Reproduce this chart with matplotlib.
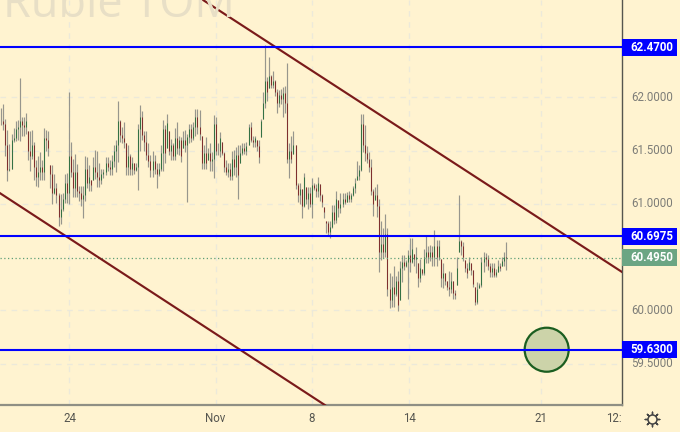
import matplotlib
matplotlib.use("Agg")
import matplotlib.pyplot as plt
from matplotlib.patches import Rectangle, Ellipse
from matplotlib.transforms import blended_transform_factory

highs = [61.90,61.94,61.80,61.69,61.56,61.66,61.71,61.78,61.79,62.18,61.82,61.82,61.85,61.68,61.68,61.69,61.58,61.41,61.45,61.49,61.41,61.71,61.69,61.68,61.36,61.36,61.28,61.20,61.10,61.09,61.10,61.28,61.29,62.05,61.58,61.42,61.47,61.37,61.17,61.17,61.17,61.45,61.44,61.36,61.22,61.44,61.51,
61.50,61.38,61.33,61.33,61.44,61.44,61.41,61.46,61.55,61.60,61.97,61.79,61.72,61.77,61.57,61.55,61.47,61.44,61.38,61.38,61.75,61.93,61.87,61.68,61.68,61.57,61.46,61.50,61.46,61.38,61.38,61.55,61.79,61.74,61.84,61.68,61.61,61.57,61.71,61.77,61.64,61.63,61.68,61.69,61.66,61.75,61.75,61.77,61.89,61.89,61.88,61.64,61.55,61.63,61.52,61.57,61.49,61.83,61.82,61.57,61.67,61.58,61.49,61.41,61.38,61.38,61.50,61.51,61.53,61.55,61.55,61.57,61.57,61.58,61.75,61.77,61.64,61.64,61.60,61.60,61.80,62.05,62.49,62.19,62.38,62.21,62.25,62.16,62.08,62.07,62.08,62.10,62.11,62.32,61.57,61.64,61.68,61.55,61.20,61.20,61.14,61.29,61.16,61.16,61.16,61.24,61.20,61.19,61.25,61.19,61.09,60.97,
60.84,60.84,60.84,60.99,60.99,61.12,61.04,
61.10,61.10,61.10,61.11,61.12,61.10,61.17,61.24,61.40,61.36,61.84,61.84,61.74,61.54,61.49,61.42,61.14,61.16,61.19,61.05,60.84,60.77,60.90,60.77,60.35,60.32,60.42,60.32,60.37,60.46,60.52,60.52,60.47,60.57,60.68,60.68,60.53,60.59,60.44,60.48,60.39,60.58,60.70,60.60,60.61,60.60,60.75,60.66,60.66,60.48,60.44,60.35,60.28,60.37,60.36,60.28,60.19,60.50,61.08,60.66,60.64,60.47,60.44,60.50,60.44,60.38,60.22,60.27,60.26,60.50,60.55,60.54,60.52,60.44,60.44,60.44,60.39,60.47,60.44,60.50,60.55,60.64]
lows = [61.74,61.69,61.45,61.21,61.31,61.33,61.58,61.59,61.60,61.59,61.64,61.64,61.66,61.41,61.31,61.42,61.22,61.17,61.16,61.22,61.22,61.22,61.50,61.45,61.15,61.00,61.09,61.01,60.79,60.81,60.93,61.01,61.01,61.00,61.25,61.06,61.06,61.06,61.03,60.98,60.87,61.03,61.15,61.12,61.12,61.22,61.23,
61.16,61.16,61.19,61.24,61.27,61.31,61.27,61.27,61.35,61.30,61.39,61.58,61.57,61.52,61.27,61.27,61.27,61.27,61.28,61.31,61.13,61.50,61.60,61.50,61.41,61.35,61.25,61.25,61.28,61.15,61.26,61.31,61.31,61.38,61.52,61.46,61.41,61.41,61.41,61.47,61.46,61.39,61.52,61.49,61.02,61.57,61.58,61.60,61.64,61.66,61.60,61.33,61.33,61.33,61.41,61.31,61.31,61.24,61.46,61.46,61.44,61.46,61.30,61.27,61.25,61.22,61.22,61.27,61.25,61.05,61.38,61.46,61.47,61.46,61.55,61.58,61.53,61.53,61.50,61.38,61.63,61.80,61.90,61.97,62.09,62.09,62.09,62.01,61.85,61.91,61.94,61.82,61.85,61.38,61.24,61.38,61.47,61.14,61.02,61.00,60.87,60.97,61.00,60.95,60.97,60.87,61.13,61.06,61.06,61.03,60.97,60.87,
60.73,60.71,60.68,60.77,60.81,60.82,60.88,
60.91,60.97,61.00,61.02,61.02,61.02,61.07,61.10,61.22,61.22,61.31,61.49,61.40,61.38,61.30,61.08,60.89,61.04,60.88,60.36,60.47,60.49,60.50,60.13,60.02,60.03,60.03,60.13,59.99,60.10,60.27,60.38,60.41,60.11,60.36,60.44,60.42,60.35,60.22,60.27,60.33,60.33,60.44,60.44,60.46,60.42,60.42,60.42,60.47,60.22,60.21,60.24,60.19,60.13,60.16,60.11,60.11,60.24,60.55,60.52,60.46,60.36,60.30,60.38,60.33,60.22,60.05,60.06,60.21,60.22,60.36,60.42,60.38,60.31,60.31,60.31,60.31,60.36,60.37,60.42,60.42,60.38]
closes = [61.78,61.75,61.55,61.32,61.33,61.60,61.62,61.70,61.72,61.78,61.74,61.72,61.78,61.50,61.45,61.55,61.35,61.25,61.30,61.35,61.30,61.62,61.60,61.52,61.28,61.10,61.15,61.08,60.88,60.95,61.05,61.20,61.10,61.45,61.30,61.15,61.30,61.12,61.10,61.05,61.08,61.33,61.20,61.25,61.18,61.35,61.30,
61.25,61.22,61.28,61.30,61.38,61.35,61.33,61.40,61.50,61.55,61.78,61.65,61.62,61.58,61.35,61.45,61.33,61.38,61.32,61.35,61.70,61.82,61.65,61.58,61.46,61.40,61.32,61.40,61.33,61.28,61.33,61.48,61.70,61.48,61.76,61.50,61.55,61.45,61.62,61.52,61.60,61.45,61.60,61.55,61.63,61.70,61.62,61.72,61.82,61.72,61.66,61.38,61.48,61.38,61.48,61.40,61.42,61.75,61.50,61.50,61.62,61.48,61.35,61.30,61.33,61.26,61.42,61.35,61.46,61.27,61.48,61.52,61.50,61.54,61.72,61.60,61.58,61.62,61.54,61.44,61.78,61.95,62.15,62.05,62.20,62.12,62.15,62.05,61.95,62.02,61.98,62.04,61.95,61.42,61.50,61.42,61.55,61.18,61.08,61.14,60.98,61.25,61.05,61.10,61.00,61.18,61.15,61.12,61.20,61.08,61.02,60.92,
60.82,60.74,60.78,60.92,60.85,61.05,60.96,
61.00,61.05,61.02,61.08,61.05,61.08,61.15,61.20,61.26,61.32,61.75,61.55,61.48,61.42,61.35,61.12,61.00,61.08,60.98,60.55,60.62,60.55,60.72,60.20,60.10,60.22,60.15,60.28,60.05,60.40,60.45,60.42,60.45,60.52,60.45,60.58,60.48,60.50,60.30,60.40,60.35,60.50,60.55,60.50,60.55,60.50,60.60,60.50,60.60,60.30,60.35,60.28,60.22,60.20,60.28,60.16,60.14,60.40,60.65,60.60,60.50,60.40,60.35,60.45,60.38,60.25,60.08,60.20,60.24,60.45,60.50,60.48,60.42,60.36,60.40,60.33,60.36,60.42,60.40,60.46,60.50,60.495]

y_ticks = [59.5, 60.0, 61.0, 61.5, 62.0]
x_tick_labels = ["24", "Nov", "8", "14", "21", "12:"]
# time-axis anchors, as fractions of the plot width
x_tick_frac = [0.1117, 0.3465, 0.5016, 0.6576, 0.8698, 0.987]
h_levels = [62.47, 60.6975, 59.63]
last_price = 60.495
upper_trend_x = [0.3264, 1.0]
upper_trend_y = [62.914, 60.36]
lower_trend_x = [0.0, 0.5225]
lower_trend_y = [61.10, 59.11]
circle_x, circle_y = 0.8789, 59.63

BG = "#fff3d0"
GRID = "#ece9da"
RED = "#7a1a1a"
GREEN = "#1f6a35"
WICK = "#8c8c86"
BLUE = "#0000ff"
TXT = "#7d7d78"

W, H = 680, 432
fig = plt.figure(figsize=(W/100, H/100), dpi=100, facecolor=BG)
ax = fig.add_axes([0, 27/H, 622/W, 405/H], facecolor=BG)
n = len(highs)
dx = (506 - 1.3) / (n - 1)
x0 = -1.3/dx
x1 = x0 + 622/dx
ax.set_xlim(x0, x1)
ax.set_ylim(59.111, 62.914)
to_idx = lambda f: x0 + f*(x1 - x0)

ax.set_yticks(y_ticks)
ax.set_yticklabels([])
ax.set_xticks([to_idx(f) for f in x_tick_frac[:5]])
ax.set_xticklabels([])
ax.tick_params(length=0)
ax.grid(True, color=GRID, lw=1, ls=(0, (4, 4)))
ax.set_axisbelow(True)
for s in ("top", "left"):
    ax.spines[s].set_visible(False)
ax.spines["right"].set_color("#55554f")
ax.spines["right"].set_linewidth(1)
ax.spines["bottom"].set_color("#8f8f84")
ax.spines["bottom"].set_linewidth(1.6)

fig.text(3/W, 1 - 17/H, "Ruble TOM", fontsize=32.5, color="#e8dfc6", family="Open Sans",
         ha="left", va="baseline", zorder=0)

opens = [closes[0]] + closes[:-1]
for i in range(n):
    o = min(max(opens[i], lows[i]), highs[i])
    c = closes[i]
    ax.plot([i, i], [lows[i], highs[i]], color=WICK, lw=0.85, alpha=0.9, solid_capstyle="butt", zorder=2)
    ax.plot([i, i], [o, c], color=GREEN if c >= o else RED, lw=0.7, alpha=0.85, solid_capstyle="butt", zorder=3)

ax.axhline(last_price, color="#5f9e77", lw=0.9, ls=(0, (1, 2)), zorder=3)
tr_x = ax.get_xaxis_transform()
tr_y = blended_transform_factory(ax.transAxes, ax.transData)
ax.plot(upper_trend_x, upper_trend_y, color=RED, lw=1.55, zorder=4, transform=tr_y)
ax.plot(lower_trend_x, lower_trend_y, color=RED, lw=1.55, zorder=4, transform=tr_y)
ax.add_patch(Ellipse((circle_x, circle_y), 44/622, 44/106.5, transform=tr_y,
                     fc="#ccd3a9", ec="#1b5e20", lw=1.6, zorder=4))
for lv in h_levels:
    ax.axhline(lv, color=BLUE, lw=1.5, zorder=5)

def tag(v, col):
    ax.add_patch(Rectangle((1.0, v - 8.5/106.5), 55/622, 17/106.5, transform=tr_y, fc=col, ec="none", clip_on=False, zorder=6))
    ax.text(1 + 30/622, v, f"{v:.4f}", transform=tr_y, color="white", fontsize=8.3, family="Roboto",
            fontweight="bold", ha="center", va="center", clip_on=False, zorder=7)

for v in y_ticks:
    ax.text(1 + 30/622, v, f"{v:.4f}", transform=tr_y, color=TXT, fontsize=8.3, family="Roboto",
            ha="center", va="center", clip_on=False, zorder=5)
for lv in h_levels:
    tag(lv, BLUE)
tag(last_price, "#6ba583")

for f, l in zip(x_tick_frac, x_tick_labels):
    ax.text(f, -13/405, l, transform=ax.transAxes, color="#55554f", fontsize=8.3, family="Roboto",
            ha="center", va="center", clip_on=False)

# settings gear
gx = fig.add_axes([641/W, 1 - 430/H, 22/W, 22/H], facecolor="none")
gx.axis("off")
gx.set_xlim(-1, 1); gx.set_ylim(-1, 1)
gx.scatter([0], [0], marker=(8, 2, 0), s=110, color="#444444", lw=1.0)
gx.scatter([0], [0], marker="o", s=42, fc=BG, ec="#444444", lw=1.1, zorder=3)

fig.savefig("out.png", dpi=100, facecolor=BG)
